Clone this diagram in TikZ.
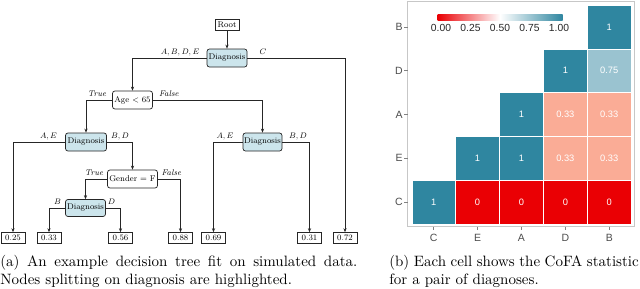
\documentclass[tikz,border=0pt]{standalone}
\usepackage{fontspec}
\newfontfamily\hfont{Liberation Sans}
\usetikzlibrary{arrows.meta,calc}
\definecolor{hmTeal}{RGB}{47,134,160}
\definecolor{hmLight}{RGB}{154,195,208}
\definecolor{hmSalmon}{RGB}{250,172,150}
\definecolor{hmRed}{RGB}{234,0,4}
\definecolor{diagBlue}{RGB}{204,229,236}
\definecolor{axGray}{RGB}{77,77,77}
\tikzset{
  tfont/.style={font=\fontsize{8.3}{10}\selectfont},
  sqbox/.style={draw=black!85, line width=0.6pt, fill=white, tfont, inner sep=0pt, minimum height=11pt, minimum width=24pt},
  rbox/.style={draw=black!85, line width=0.7pt, rounded corners=2.5pt, fill=white, tfont, inner sep=0pt, minimum height=18pt},
  dbox/.style={rbox, fill=diagBlue, minimum width=40pt},
  edge/.style={draw=black!85, line width=0.7pt, -{Stealth[length=4pt,width=3.2pt]}},
  lbl/.style={tfont, inner sep=0pt, anchor=base},
  celltxt/.style={text=white, font=\hfont\fontsize{9.3}{10}\selectfont, inner sep=0pt},
  axlbl/.style={text=axGray, font=\hfont\fontsize{10.5}{11}\selectfont, inner sep=0pt},
  leglbl/.style={text=black!85, font=\hfont\fontsize{10.3}{11}\selectfont, inner sep=0pt},
  captxt/.style={font=\fontsize{10}{12}\selectfont, inner sep=0pt, anchor=north west, scale=1.5, transform shape}
}
\begin{document}
\begin{tikzpicture}[x=1pt,y=-1pt]
\useasboundingbox (0,0) rectangle (640,289);
\fill[white] (0,0) rectangle (640,289);

% ---------------- decision tree ----------------
\node[sqbox] (root) at (227,24.5) {Root};
\node[dbox] (d1) at (227,58) {Diagnosis};
\node[rbox, minimum width=40pt] (age) at (132.5,100) {Age $<$ 65};
\node[dbox, minimum width=41pt] (d2) at (86,142) {Diagnosis};
\node[dbox, minimum width=39pt] (d3) at (262.5,142) {Diagnosis};
\node[rbox, minimum width=50pt] (gen) at (132.5,179) {Gender = F};
\node[dbox, minimum width=40pt, minimum height=17pt] (d4) at (85.5,208) {Diagnosis};

\node[sqbox] (l25) at (13,238) {0.25};
\node[sqbox] (l33) at (49,238) {0.33};
\node[sqbox] (l56) at (120.5,238) {0.56};
\node[sqbox] (l88) at (180.5,238) {0.88};
\node[sqbox] (l69) at (213.5,238) {0.69};
\node[sqbox] (l31) at (309.5,238) {0.31};
\node[sqbox] (l72) at (345,238) {0.72};

\draw[edge] (root) -- (d1);
\draw[edge] (d1.west) -| (age.north);
\draw[edge] (d1.east) -| (l72.north);
\draw[edge] (age.west) -| (d2.north);
\draw[edge] (age.east) -| (d3.north);
\draw[edge] (d2.west) -| (l25.north);
\draw[edge] (d2.east) -| (gen.north);
\draw[edge] (gen.west) -| (d4.north);
\draw[edge] (gen.east) -| (l88.north);
\draw[edge] (d4.west) -| (l33.north);
\draw[edge] (d4.east) -| (l56.north);
\draw[edge] (d3.west) -| (l69.north);
\draw[edge] (d3.east) -| (l31.north);

\node[lbl] (t1) at (180,54) {$A, B, D, E$};
\node[lbl] (t2) at (263,54) {$C$};
\node[lbl] (t3) at (97,96) {\textit{True}};
\node[lbl] (t4) at (169,96) {\textit{False}};
\node[lbl] (t5) at (48.5,138) {$A, E$};
\node[lbl] (t6) at (120,138) {$B, D$};
\node[lbl] (t7) at (94,175) {\textit{True}};
\node[lbl] (t8) at (171.5,175) {\textit{False}};
\node[lbl] (t9) at (57.5,204) {$B$};
\node[lbl] (t10) at (111.5,204) {$D$};
\node[lbl] (t11) at (225,138) {$A, E$};
\node[lbl] (t12) at (298,138) {$B, D$};

% ---------------- heat map ----------------
\draw[black!22, line width=0.8pt] (407.5,1) rectangle (634.5,226.5);
\foreach \i/\j/\c/\t in {4/0/hmTeal/1, 3/1/hmTeal/1, 4/1/hmLight/0.75,
  2/2/hmTeal/1, 3/2/hmSalmon/0.33, 4/2/hmSalmon/0.33,
  1/3/hmTeal/1, 2/3/hmTeal/1, 3/3/hmSalmon/0.33, 4/3/hmSalmon/0.33,
  0/4/hmTeal/1, 1/4/hmRed/0, 2/4/hmRed/0, 3/4/hmRed/0, 4/4/hmRed/0}{
  \filldraw[fill=\c, draw=white, line width=0.4pt] ({411.7+43.9*\i},{5+43.8*\j}) rectangle ++(43.9,43.8);
  \node[celltxt] at ({433.65+43.9*\i},{26.9+43.8*\j}) {\t};
}
\foreach \n [count=\k from 0] in {B,D,A,E,C}{
  \draw[axGray!70, line width=0.6pt] (404,{26.9+43.8*\k}) -- (407.5,{26.9+43.8*\k});
  \node[axlbl] at (399,{26.9+43.8*\k}) {\n};
}
\foreach \n [count=\k from 0] in {C,E,A,D,B}{
  \draw[axGray!70, line width=0.6pt] ({433.65+43.9*\k},226.5) -- ({433.65+43.9*\k},230);
  \node[axlbl] at ({433.65+43.9*\k},237.5) {\n};
}
% legend
\shade[left color=hmRed, right color=white] (437.7,14) rectangle (500,20.5);
\shade[left color=white, right color=hmTeal] (500,14) rectangle (562.7,20.5);
\foreach \v/\x in {0.00/441,0.25/470.5,0.50/500,0.75/529.5,1.00/559}{
  \node[leglbl] at (\x,28) {\v};
}

% ---------------- captions ----------------
\node[captxt, text width=238pt, align=justify] (capa) at (0,255)
  {(a) An example decision tree fit on simulated data. Nodes splitting on diagnosis are highlighted.};
\node[captxt, text width=166.3pt, align=justify] (capb) at (389,255)
  {(b) Each cell shows the CoFA statistic for a pair of diagnoses.};
\end{tikzpicture}
\end{document}
